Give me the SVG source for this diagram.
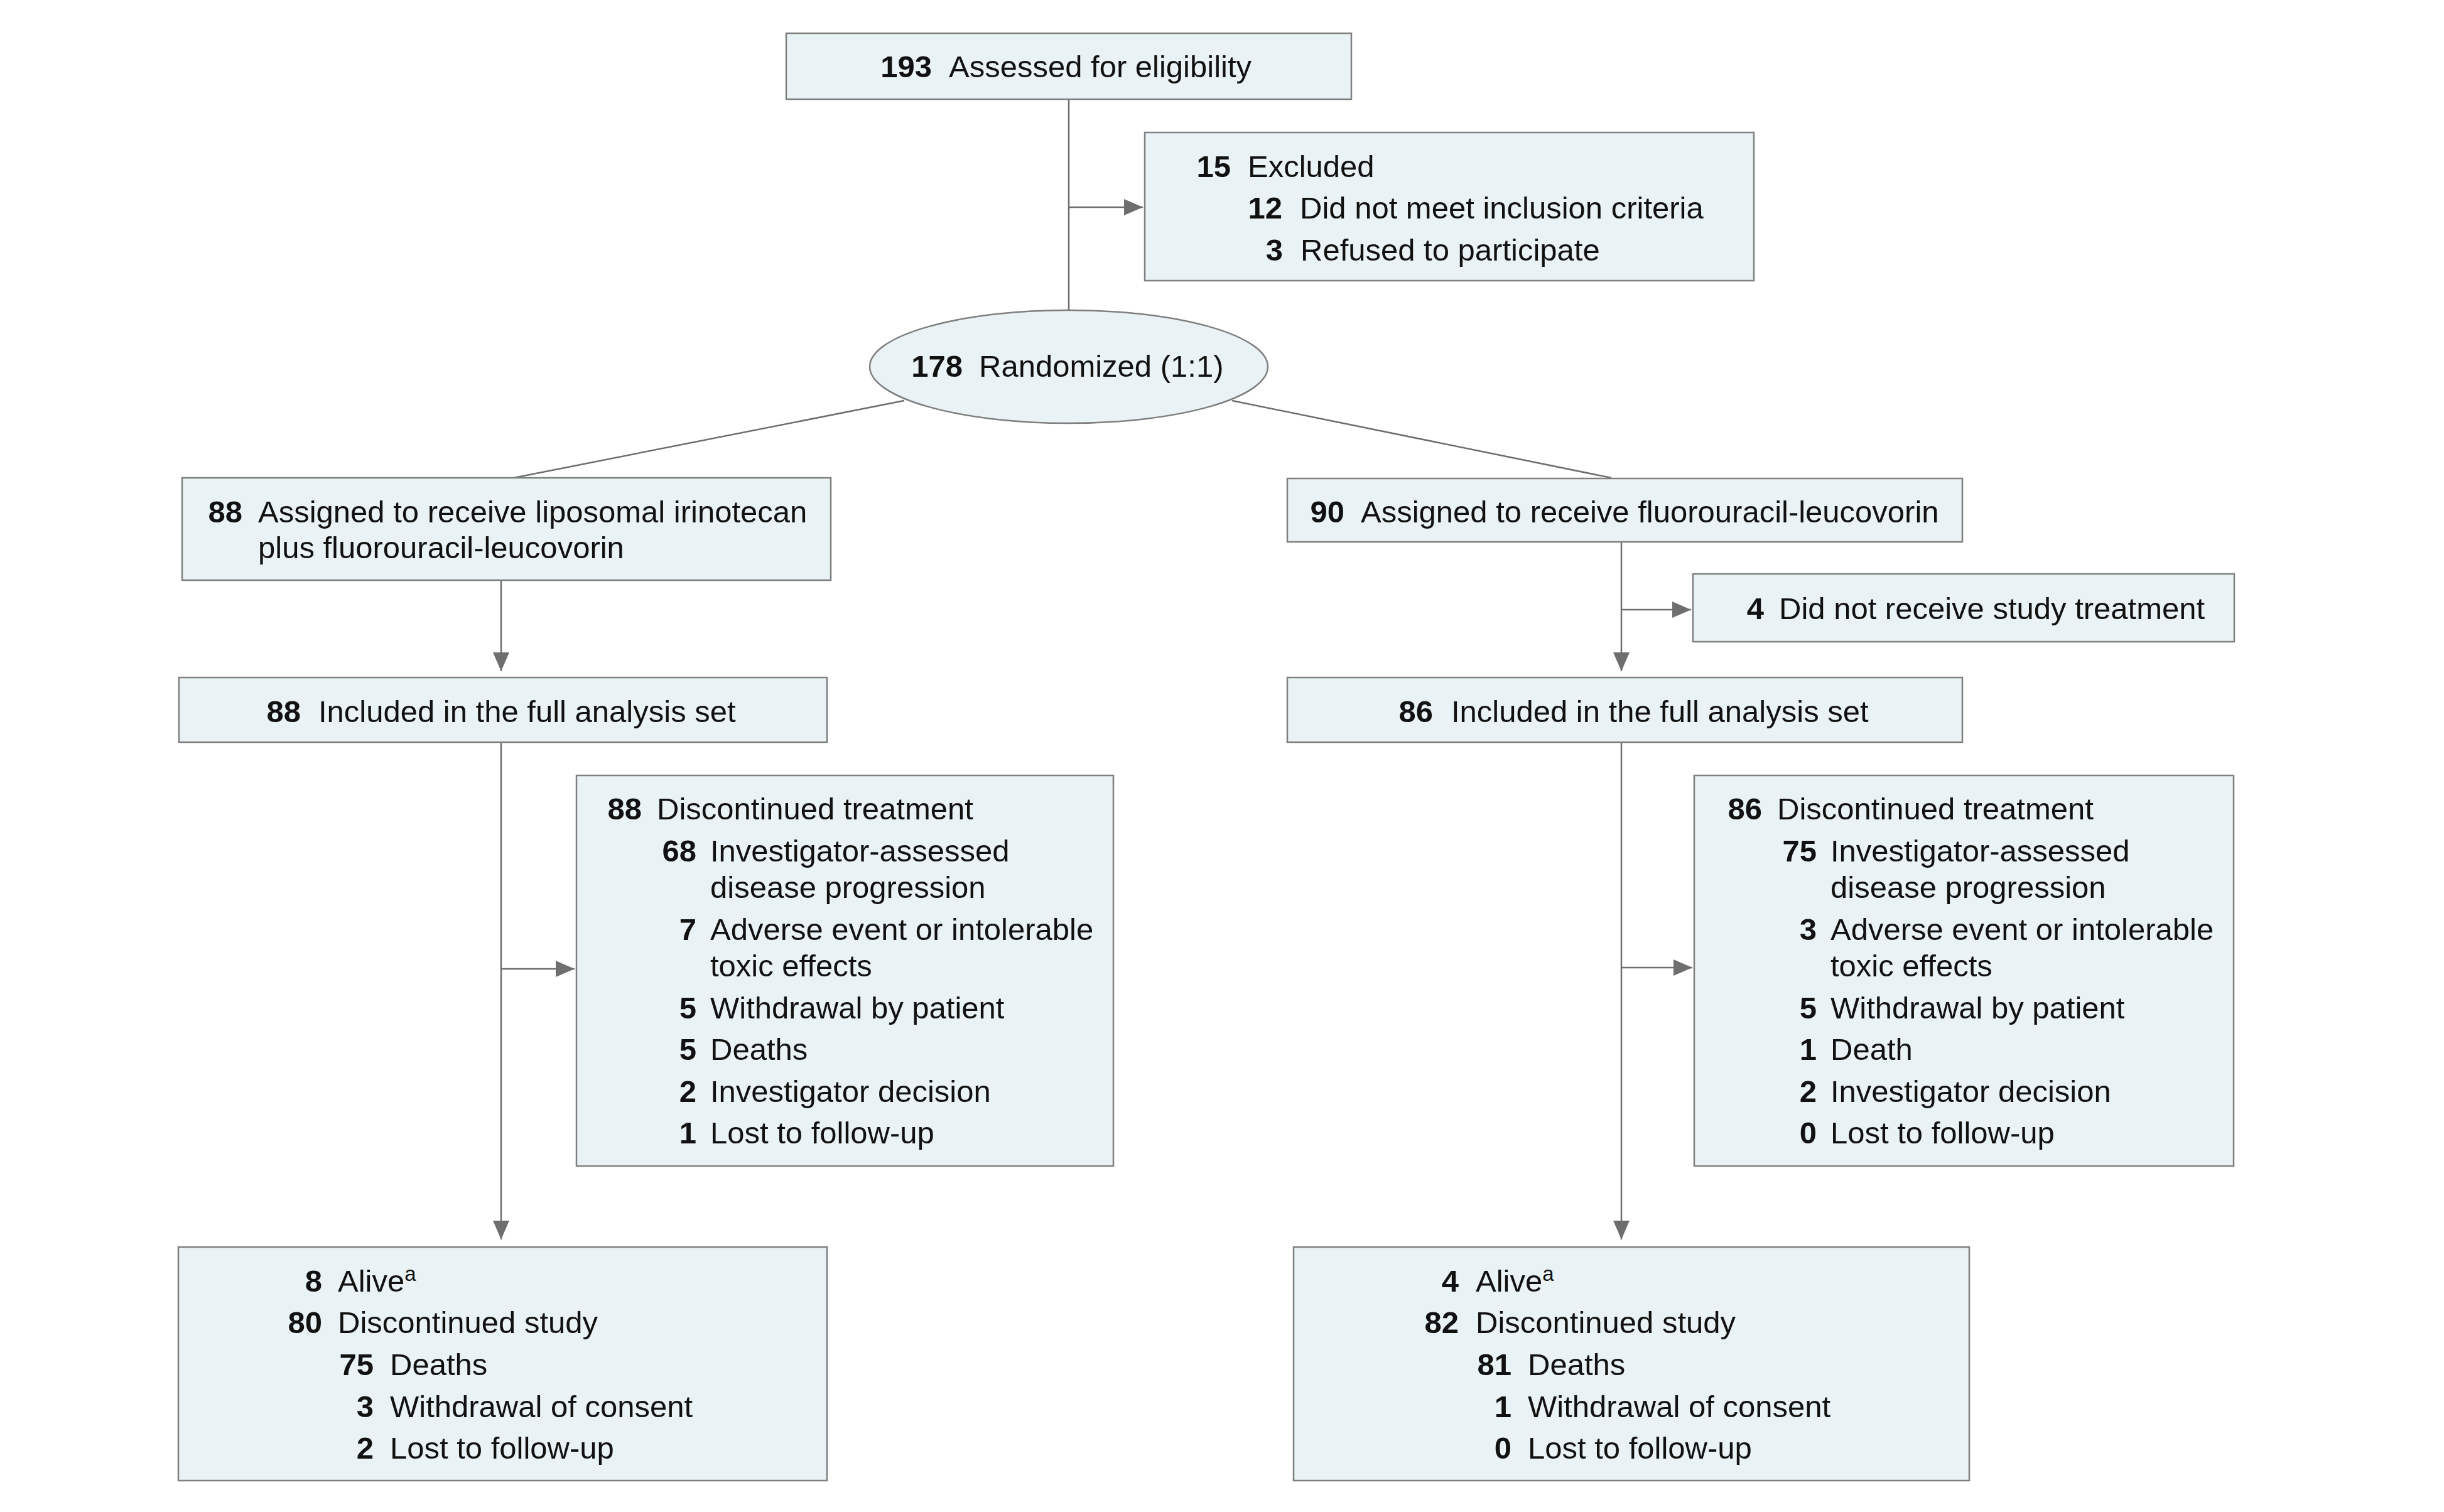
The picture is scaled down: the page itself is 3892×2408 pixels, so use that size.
<svg xmlns="http://www.w3.org/2000/svg" width="3892" height="2408" viewBox="0 0 3892 2408">
<style>
.box{fill:#E9F3F5;stroke:#7F7F7F;stroke-width:2.5}
.ln{fill:none;stroke:#6E6E6E;stroke-width:2.5}
.arr{marker-end:url(#ah)}
text{font-family:"Liberation Sans",Arial,sans-serif;font-size:49px;fill:#111}
.n{font-weight:bold;text-anchor:end}
.sup{font-size:33px}
</style>
<defs>
<marker id="ah" viewBox="0 0 30 26" refX="30" refY="13" markerWidth="30" markerHeight="26" markerUnits="userSpaceOnUse" orient="auto">
<path d="M0,0 L30,13 L0,26 Z" fill="#6E6E6E"/>
</marker>
</defs>
<rect width="3892" height="2408" fill="#fff"/>
<g id="connectors">
<line class="ln" x1="1702" y1="158" x2="1702" y2="494"/>
<line class="ln arr" x1="1702" y1="330" x2="1820" y2="330"/>
<line class="ln" x1="1440" y1="638" x2="818" y2="761"/>
<line class="ln" x1="1962" y1="638" x2="2566" y2="761"/>
<line class="ln arr" x1="798" y1="924" x2="798" y2="1069"/>
<line class="ln arr" x1="798" y1="1182" x2="798" y2="1974"/>
<line class="ln arr" x1="798" y1="1543" x2="915" y2="1543"/>
<line class="ln arr" x1="2582" y1="863" x2="2582" y2="1069"/>
<line class="ln arr" x1="2582" y1="971" x2="2693" y2="971"/>
<line class="ln arr" x1="2582" y1="1182" x2="2582" y2="1974"/>
<line class="ln arr" x1="2582" y1="1541" x2="2695" y2="1541"/>
</g>
<g id="assessed">
<rect class="box" x="1252" y="53" width="900" height="105"/>
<text class="n" x="1484" y="123">193</text><text x="1511" y="123">Assessed for eligibility</text>
</g>
<g id="excluded">
<rect class="box" x="1823" y="211" width="970" height="236"/>
<text class="n" x="1960" y="282">15</text><text x="1987" y="282">Excluded</text>
<text class="n" x="2042" y="348">12</text><text x="2070" y="348">Did not meet inclusion criteria</text>
<text class="n" x="2043" y="415">3</text><text x="2071" y="415">Refused to participate</text>
</g>
<g id="randomized">
<ellipse class="box" cx="1702" cy="584" rx="317" ry="90"/>
<text class="n" x="1533" y="600">178</text><text x="1559" y="600">Randomized (1:1)</text>
</g>
<g id="assigned-left">
<rect class="box" x="290" y="761" width="1033" height="163"/>
<text class="n" x="386" y="832">88</text><text x="411" y="832">Assigned to receive liposomal irinotecan</text>
<text x="411" y="889">plus fluorouracil-leucovorin</text>
</g>
<g id="assigned-right">
<rect class="box" x="2050" y="762" width="1075" height="101"/>
<text class="n" x="2141" y="832">90</text><text x="2167" y="832">Assigned to receive fluorouracil-leucovorin</text>
</g>
<g id="not-received">
<rect class="box" x="2696" y="914" width="862" height="108"/>
<text class="n" x="2809" y="986">4</text><text x="2833" y="986">Did not receive study treatment</text>
</g>
<g id="fas-left">
<rect class="box" x="285" y="1079" width="1032" height="103"/>
<text class="n" x="479" y="1150">88</text><text x="507" y="1150">Included in the full analysis set</text>
</g>
<g id="fas-right">
<rect class="box" x="2050" y="1079" width="1075" height="103"/>
<text class="n" x="2282" y="1150">86</text><text x="2311" y="1150">Included in the full analysis set</text>
</g>
<g id="disc-left">
<rect class="box" x="918" y="1235" width="855" height="622"/>
<text class="n" x="1022" y="1305">88</text><text x="1046" y="1305">Discontinued treatment</text>
<text class="n" x="1109" y="1372">68</text><text x="1131" y="1372">Investigator-assessed</text>
<text x="1131" y="1430">disease progression</text>
<text class="n" x="1109" y="1497">7</text><text x="1131" y="1497">Adverse event or intolerable</text>
<text x="1131" y="1555">toxic effects</text>
<text class="n" x="1109" y="1622">5</text><text x="1131" y="1622">Withdrawal by patient</text>
<text class="n" x="1109" y="1688">5</text><text x="1131" y="1688">Deaths</text>
<text class="n" x="1109" y="1755">2</text><text x="1131" y="1755">Investigator decision</text>
<text class="n" x="1109" y="1821">1</text><text x="1131" y="1821">Lost to follow-up</text>
</g>
<g id="disc-right">
<rect class="box" x="2698" y="1235" width="859" height="622"/>
<text class="n" x="2806" y="1305">86</text><text x="2830" y="1305">Discontinued treatment</text>
<text class="n" x="2893" y="1372">75</text><text x="2915" y="1372">Investigator-assessed</text>
<text x="2915" y="1430">disease progression</text>
<text class="n" x="2893" y="1497">3</text><text x="2915" y="1497">Adverse event or intolerable</text>
<text x="2915" y="1555">toxic effects</text>
<text class="n" x="2893" y="1622">5</text><text x="2915" y="1622">Withdrawal by patient</text>
<text class="n" x="2893" y="1688">1</text><text x="2915" y="1688">Death</text>
<text class="n" x="2893" y="1755">2</text><text x="2915" y="1755">Investigator decision</text>
<text class="n" x="2893" y="1821">0</text><text x="2915" y="1821">Lost to follow-up</text>
</g>
<g id="final-left">
<rect class="box" x="284" y="1986" width="1033" height="372"/>
<text class="n" x="513" y="2057">8</text><text x="538" y="2057">Alive<tspan class="sup" dy="-17">a</tspan></text>
<text class="n" x="513" y="2123">80</text><text x="538" y="2123">Discontinued study</text>
<text class="n" x="595" y="2190">75</text><text x="621" y="2190">Deaths</text>
<text class="n" x="595" y="2257">3</text><text x="621" y="2257">Withdrawal of consent</text>
<text class="n" x="595" y="2323">2</text><text x="621" y="2323">Lost to follow-up</text>
</g>
<g id="final-right">
<rect class="box" x="2060" y="1986" width="1076" height="372"/>
<text class="n" x="2323" y="2057">4</text><text x="2350" y="2057">Alive<tspan class="sup" dy="-17">a</tspan></text>
<text class="n" x="2323" y="2123">82</text><text x="2350" y="2123">Discontinued study</text>
<text class="n" x="2407" y="2190">81</text><text x="2433" y="2190">Deaths</text>
<text class="n" x="2407" y="2257">1</text><text x="2433" y="2257">Withdrawal of consent</text>
<text class="n" x="2407" y="2323">0</text><text x="2433" y="2323">Lost to follow-up</text>
</g>
</svg>
